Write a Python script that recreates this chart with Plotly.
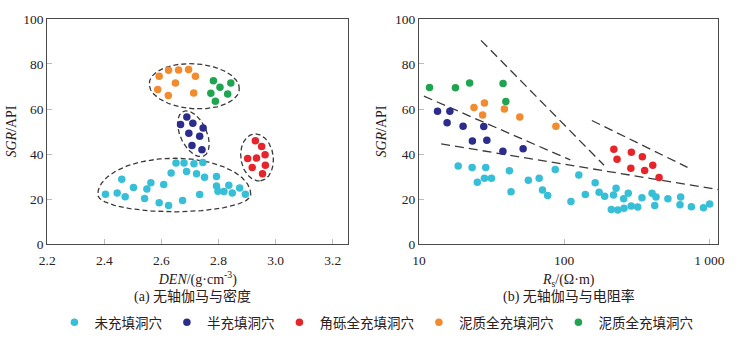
import numpy as np
import plotly.graph_objects as go

W, H = 739, 342

# ---------------- data ----------------
names = ["未充填洞穴", "半充填洞穴", "角砾全充填洞穴", "泥质全充填洞穴", "泥质全充填洞穴 "]
colors = ["#36bfd6", "#2c2c8c", "#e8242b", "#f28a2e", "#1fa550"]

# (a) DEN vs SGR
den_unfilled = [2.651, 2.679, 2.714, 2.745, 2.634, 2.688, 2.723, 2.751, 2.793, 2.461, 2.563, 2.608,
                2.793, 2.836, 2.502, 2.549, 2.404, 2.445, 2.473, 2.541, 2.592, 2.625, 2.674, 2.734,
                2.798, 2.819, 2.848, 2.874, 2.894]
sgr_unfilled_a = [36.0, 36.0, 35.7, 36.3, 31.6, 32.2, 31.3, 29.7, 30.0, 28.8, 27.3, 26.5,
                  25.8, 26.1, 25.1, 24.5, 22.2, 22.7, 21.0, 20.3, 18.4, 17.1, 19.4, 22.0,
                  23.5, 23.4, 22.7, 24.9, 22.1]
den_half = [2.689, 2.667, 2.710, 2.746, 2.696, 2.734, 2.707, 2.742]
sgr_half_a = [56.5, 53.1, 53.7, 51.6, 49.2, 47.9, 43.8, 41.9]
den_breccia = [2.929, 2.951, 2.963, 2.902, 2.933, 2.964, 2.918, 2.954]
sgr_breccia_a = [45.9, 43.3, 39.7, 38.0, 38.2, 35.0, 34.0, 31.3]
den_mud_o = [2.592, 2.625, 2.660, 2.695, 2.719, 2.587, 2.649, 2.624, 2.713]
sgr_mud_o_a = [74.6, 77.2, 77.3, 77.5, 74.6, 68.7, 71.5, 66.0, 67.1]
den_mud_g = [2.782, 2.805, 2.843, 2.773, 2.832, 2.789]
sgr_mud_g_a = [72.5, 69.7, 71.5, 67.0, 66.7, 63.5]

# (b) Rs vs SGR
rs_unfilled = [18.6, 23.2, 28.8, 25.2, 28.2, 31.5, 41.9, 43.0, 56.6, 67.2, 70.8, 76.9, 86.7,
               111.2, 126.0, 139.7, 163.3, 173.8, 189.8, 218.3, 227.5, 211, 233.7, 258, 256.6,
               276, 289, 320.7, 343, 402.6, 428.5, 420, 517.6, 634, 627, 751, 910, 1004]
sgr_unfilled_b = [34.7, 34.0, 34.0, 27.5, 29.3, 29.3, 32.6, 23.3, 28.4, 29.3, 24.0, 21.6, 33.1,
                  18.9, 30.7, 22.0, 27.2, 23.0, 21.3, 21.8, 24.8, 15.4, 15.1, 15.9, 20.2,
                  22.6, 16.9, 16.5, 20.6, 22.6, 20.9, 17.2, 20.1, 20.9, 17.5, 16.6, 16.2, 17.8]
rs_half = [13.4, 16.3, 15.6, 20.1, 27.9, 23.3, 29.3, 37.8, 52.1]
sgr_half_b = [59.0, 59.0, 53.9, 52.3, 52.2, 45.8, 46.1, 41.3, 42.4]
rs_breccia = [219.6, 231, 290, 345, 407, 287.5, 358, 450]
sgr_breccia_b = [42.1, 37.7, 40.8, 38.8, 35.0, 33.7, 32.7, 29.6]
rs_mud_o = [23.9, 28.2, 27.4, 38.7, 49.4, 87.6]
sgr_mud_o_b = [60.7, 62.7, 57.3, 60.0, 56.5, 52.3]
rs_mud_g = [11.8, 17.8, 22.3, 37.9, 39.6]
sgr_mud_g_b = [69.6, 69.4, 71.6, 71.3, 63.3]

# dashed boundary lines in (b): (Rs0, SGR0, Rs1, SGR1)
bound_lines = [
    (10.8, 65.7, 110, 37.4),
    (14.2, 44.5, 1150, 24.2),
    (26.7, 90.5, 188, 35.0),
    (155, 54.9, 706, 34.1),
]

# enclosing curves in (a): center DEN, center SGR, half-width px, top px, bottom px, angle deg
enclosures = [
    (2.715, 70.1, 46, 23.5, 23.5, -4),
    (2.712, 49.0, 25.5, 13.5, 13.5, -66),
    (2.935, 38.5, 24.7, 16.5, 16.5, -82),
    (2.645, 22.0, 78, 38, 18, 0),
]

# ---------------- layout geometry ----------------
L1, R1 = 40, 347
L2, R2 = 419, 724
TOP, BOT = 12.5, 248
xr1 = [2.2, 2.2 + (R1 - L1) / 291.0]
xr2 = [1.0, 3.061]

font_fam = "Liberation Serif, Times New Roman, Noto Sans CJK SC, serif"
txt_col = "#2a2020"

fig = go.Figure()

sets_a = [(den_unfilled, sgr_unfilled_a), (den_half, sgr_half_a), (den_breccia, sgr_breccia_a),
          (den_mud_o, sgr_mud_o_a), (den_mud_g, sgr_mud_g_a)]
sets_b = [(rs_unfilled, sgr_unfilled_b), (rs_half, sgr_half_b), (rs_breccia, sgr_breccia_b),
          (rs_mud_o, sgr_mud_o_b), (rs_mud_g, sgr_mud_g_b)]

# enclosure curves (drawn in pixel space, converted to data)
pxx = (R1 - L1) / (xr1[1] - xr1[0])
pxy = (BOT - TOP) / 100.0
t = np.linspace(0, 2 * np.pi, 240)
for cx, cy, a, bt, bb, ang in enclosures:
    b = np.where(np.sin(t) >= 0, bt, bb)
    u = a * np.cos(t)
    v = b * np.sin(t)
    th = np.deg2rad(ang)
    dx = u * np.cos(th) - v * np.sin(th)
    dy = u * np.sin(th) + v * np.cos(th)
    fig.add_trace(go.Scatter(x=cx + dx / pxx, y=cy + dy / pxy, mode="lines",
                             line=dict(color="#3a3a3a", width=1.3, dash="5px,3px"),
                             showlegend=False, hoverinfo="skip", xaxis="x", yaxis="y"))

for (x0, y0, x1, y1) in bound_lines:
    fig.add_trace(go.Scatter(x=[x0, x1], y=[y0, y1], mode="lines",
                             line=dict(color="#3a3a3a", width=1.3, dash="9px,5px"),
                             showlegend=False, hoverinfo="skip", xaxis="x2", yaxis="y2"))

for i in range(5):
    fig.add_trace(go.Scatter(x=sets_a[i][0], y=sets_a[i][1], mode="markers",
                             marker=dict(color=colors[i], size=7.5), name=names[i],
                             legendgroup=str(i), showlegend=True, xaxis="x", yaxis="y"))
    fig.add_trace(go.Scatter(x=sets_b[i][0], y=sets_b[i][1], mode="markers",
                             marker=dict(color=colors[i], size=7.5), name=names[i],
                             legendgroup=str(i), showlegend=False, xaxis="x2", yaxis="y2"))

axis_common = dict(showline=True, linecolor="#4a4a4a", linewidth=1, mirror=True,
                   ticks="inside", ticklen=5, tickcolor="#bbbbbb", showgrid=False, zeroline=False,
                   tickfont=dict(family=font_fam, size=13.5, color=txt_col))

ydom = [1 - BOT / H, 1 - TOP / H]
fig.update_layout(
    width=W, height=H, margin=dict(l=0, r=0, t=0, b=0),
    paper_bgcolor="white", plot_bgcolor="white",
    font=dict(family=font_fam, size=13, color=txt_col),
    xaxis=dict(domain=[L1 / W, R1 / W], range=xr1, tickvals=[2.2, 2.4, 2.6, 2.8, 3.0, 3.2],
               ticktext=["2.2", "2.4", "2.6", "2.8", "3.0", "3.2"], ticklabelstandoff=4,
               title=dict(text="<i>DEN</i>/(g·cm<sup>-3</sup>)", standoff=6,
                          font=dict(size=14)), **axis_common),
    yaxis=dict(domain=ydom, range=[0, 100], tickvals=[0, 20, 40, 60, 80, 100],
               title=dict(text="<i>SGR</i>/API", standoff=3, font=dict(size=14)), **axis_common),
    xaxis2=dict(domain=[L2 / W, R2 / W], type="log", range=xr2, tickvals=[10, 100, 1000],
                ticktext=["10", "100", "1 000"], ticklabelstandoff=4,
                title=dict(text="<i>R</i><sub>s</sub>/(Ω·m)", standoff=6, font=dict(size=14)),
                anchor="y2", **axis_common),
    yaxis2=dict(domain=ydom, range=[0, 100], tickvals=[0, 20, 40, 60, 80, 100], anchor="x2",
                title=dict(text="<i>SGR</i>/API", standoff=5, font=dict(size=14)), **axis_common),
    legend=dict(orientation="h", x=0.064, xanchor="left", y=1 - 330 / H, yanchor="middle",
                font=dict(family=font_fam, size=13.5, color=txt_col), bgcolor="rgba(0,0,0,0)",
                itemwidth=30, tracegroupgap=0),
    showlegend=True,
)

subtitles = [("(a) 无轴伽马与密度", (L1 + R1) / 2 / W - 0.008), ("(b) 无轴伽马与电阻率", (L2 + R2) / 2 / W)]
for text, xc in subtitles:
    fig.add_annotation(text=text, x=xc, y=1 - 303 / H, xref="paper", yref="paper",
                       showarrow=False, xanchor="center", yanchor="middle",
                       font=dict(family=font_fam, size=14, color=txt_col))

fig.write_html("out.html")
